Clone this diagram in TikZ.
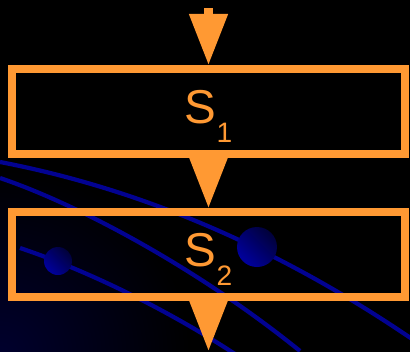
\documentclass[tikz,border=0pt]{standalone}
\usepackage{fontspec}
\setmainfont{Liberation Sans}
\usetikzlibrary{arrows.meta,positioning}

\definecolor{boxorange}{RGB}{255,153,51}
\definecolor{orbitblue}{RGB}{2,2,145}
\definecolor{glowblue}{RGB}{0,0,46}

% subscript as the slide sets it: big and low
\newcommand\stagesub[1]{\raisebox{-13.5pt}{\fontsize{20}{24}\selectfont #1}}

\tikzset{
  stage/.style={draw=boxorange, line width=5.7pt, minimum width=9.825cm,
    minimum height=2.125cm, inner sep=0pt, text=boxorange,
    font=\fontsize{33.8}{40}\selectfont, text height=24pt, text depth=7.6pt},
  flow/.style={boxorange, line width=5.7pt,
    -{Triangle[length=36.3pt, width=26.3pt]}},
  orbit/.style={orbitblue, line width=3pt},
  planet/.style={shading=axis, top color=orbitblue!40!black,
    bottom color=blue!62!black, shading angle=-45}
}

\begin{document}
\begin{tikzpicture}[x=0.025cm, y=-0.025cm]

    % background of the slide
    \useasboundingbox (0,0) rectangle (410,351);
    \fill[black] (-5,-5) rectangle (415,356);
    \begin{scope}
        \clip (-5,-5) rectangle (415,356);
        \shade[inner color=glowblue, outer color=black] (0,356) circle (190);

        % orbits
        \draw[orbit] (0,162) .. controls (120,185) and (260,235) .. (415,341);
        \draw[orbit] (0,178) .. controls (80,205) and (200,270) .. (300,351);
        \draw[orbit] (20,248) .. controls (80,268) and (160,305) .. (235,354);
    \end{scope}

    % planets
    \shade[planet] (58,261) circle (14);
    \shade[planet] (257,247) circle (20);

    % ==================== stages ====================
    \node[stage] (s1) at (208.5,111.5) {S\stagesub{1}};
    \node[stage, below=1.25cm of s1] (s2) {S\stagesub{2}};

    \coordinate (in) at (208.5,8);
    \coordinate (out) at (208.5,351);

    % flow arrows
    \draw[flow] (in) -- (s1.north);
    \draw[flow] (s1.south) -- (s2.north);
    \draw[flow] (s2.south) -- (out);

\end{tikzpicture}
\end{document}
